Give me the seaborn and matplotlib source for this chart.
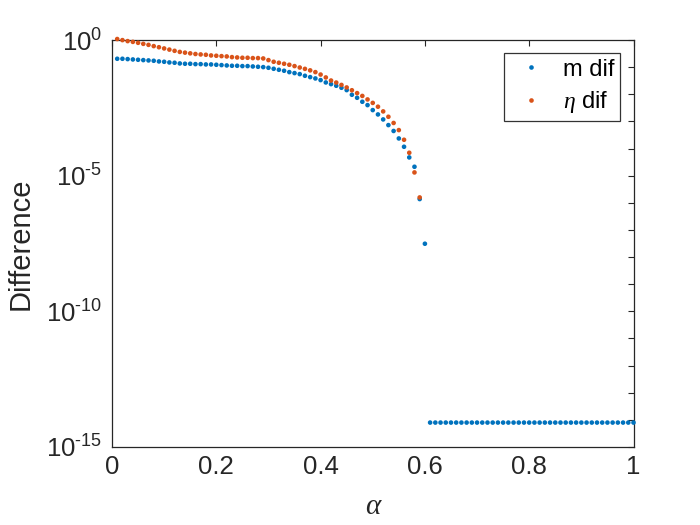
import numpy as np
import pandas as pd
import matplotlib
matplotlib.use("Agg")
import matplotlib.pyplot as plt
from matplotlib.ticker import NullFormatter
import seaborn as sns

# ---- data (log10 of the differences) ----
alpha = [round(0.01 * k, 2) for k in range(1, 101)]

m_dif_log10 = [
    -0.688, -0.688, -0.700, -0.713, -0.725, -0.737, -0.749, -0.762, -0.786, -0.799,
    -0.823, -0.835, -0.860, -0.872, -0.872, -0.885, -0.885, -0.897, -0.897, -0.909,
    -0.921, -0.934, -0.946, -0.946, -0.958, -0.958, -0.971, -0.983, -0.995, -1.020,
    -1.057, -1.094, -1.130, -1.180, -1.216, -1.253, -1.315, -1.364, -1.413, -1.474,
    -1.561, -1.622, -1.683, -1.757, -1.843, -2.015, -2.126, -2.273, -2.396, -2.580,
    -2.740, -2.924, -3.133, -3.350, -3.625, -3.932, -4.325, -4.669, -5.860, -7.507,
    -14.1, -14.1, -14.1, -14.1, -14.1, -14.1, -14.1, -14.1, -14.1, -14.1,
    -14.1, -14.1, -14.1, -14.1, -14.1, -14.1, -14.1, -14.1, -14.1, -14.1,
    -14.1, -14.1, -14.1, -14.1, -14.1, -14.1, -14.1, -14.1, -14.1, -14.1,
    -14.1, -14.1, -14.1, -14.1, -14.1, -14.1, -14.1, -14.1, -14.1, -14.1,
]

eta_dif_log10 = [
    0.040, 0.000, -0.037, -0.065, -0.100, -0.138, -0.175, -0.221, -0.262, -0.307,
    -0.350, -0.395, -0.435, -0.462, -0.488, -0.512, -0.528, -0.541, -0.565, -0.577,
    -0.590, -0.602, -0.627, -0.639, -0.651, -0.651, -0.663, -0.663, -0.676, -0.737,
    -0.799, -0.835, -0.872, -0.909, -0.958, -1.010, -1.060, -1.115, -1.180, -1.270,
    -1.376, -1.490, -1.565, -1.652, -1.745, -1.848, -1.954, -2.058, -2.187, -2.315,
    -2.455, -2.628, -2.826, -3.055, -3.317, -3.674, -4.153, -4.878, -5.800,
]

series_labels = ["m dif", r"$\eta$ dif"]
colors = ["#0072BD", "#D95319"]

x_ticks = [0, 0.2, 0.4, 0.6, 0.8, 1]
x_tick_labels = ["0", "0.2", "0.4", "0.6", "0.8", "1"]
y_major_exp = [-15, -10, -5, 0]

# ---- tidy table ----
df = pd.concat([
    pd.DataFrame({"alpha": alpha, "diff": np.power(10.0, m_dif_log10),
                  "series": series_labels[0]}),
    pd.DataFrame({"alpha": alpha[:len(eta_dif_log10)],
                  "diff": np.power(10.0, eta_dif_log10),
                  "series": series_labels[1]}),
], ignore_index=True)

sns.set_style("white")
plt.rcParams["font.family"] = ["Liberation Sans", "DejaVu Sans"]
plt.rcParams["mathtext.fontset"] = "custom"
plt.rcParams["mathtext.rm"] = "Liberation Sans"
plt.rcParams["mathtext.it"] = "Liberation Serif:italic"
plt.rcParams["mathtext.bf"] = "Liberation Sans:bold"

tick_size = 18.5

fig = plt.figure(figsize=(7, 5.25), dpi=100)
ax = fig.add_axes([0.16, 0.1486, 0.745, 0.775])

sns.scatterplot(data=df, x="alpha", y="diff", hue="series",
                palette=dict(zip(series_labels, colors)),
                hue_order=series_labels, s=11, linewidth=0,
                ax=ax, clip_on=False, zorder=3)

ax.set_yscale("log")
ax.set_xlim(0, 1)
ax.set_ylim(1e-15, 1e0)

axis_col = "#262626"
ax.set_xticks(x_ticks)
ax.set_xticklabels(x_tick_labels, fontsize=tick_size)
ax.set_yticks([10.0 ** e for e in y_major_exp])
ax.set_yticklabels([r"$\mathregular{10^{\text{%d}}}$" % e for e in y_major_exp],
                   fontsize=tick_size)
ax.set_yticks([10.0 ** e for e in range(-15, 1) if e not in y_major_exp], minor=True)
ax.yaxis.set_minor_formatter(NullFormatter())
ax.set_xticks([], minor=True)

for sp in ax.spines.values():
    sp.set_visible(True)
    sp.set_color(axis_col)
    sp.set_linewidth(0.9)

ax.tick_params(axis="both", which="both", direction="in", top=True, right=True,
               length=4, width=0.8, color=axis_col, labelcolor=axis_col)
ax.tick_params(axis="x", which="major", pad=6)
ax.tick_params(axis="y", which="major", pad=7)

ax.set_xlabel("α", fontfamily="Liberation Serif", fontstyle="italic",
              fontsize=21, color=axis_col)
ax.xaxis.set_label_coords(0.5, -0.115)
ax.set_ylabel("Difference", fontsize=21, color=axis_col)
ax.yaxis.set_label_coords(-0.148, 0.5)

handles, labels = ax.get_legend_handles_labels()
leg = ax.legend(handles, labels, loc="upper right",
                bbox_to_anchor=(0.974, 0.969), borderaxespad=0,
                fontsize=17, frameon=True, fancybox=False,
                edgecolor="black", handletextpad=0.45, handlelength=1.8,
                borderpad=0.25, labelspacing=0.35, markerscale=1.0)
leg.get_frame().set_linewidth(0.9)
for t in leg.get_texts():
    t.set_color("black")

fig.savefig("out.png", dpi=100, facecolor="white")
